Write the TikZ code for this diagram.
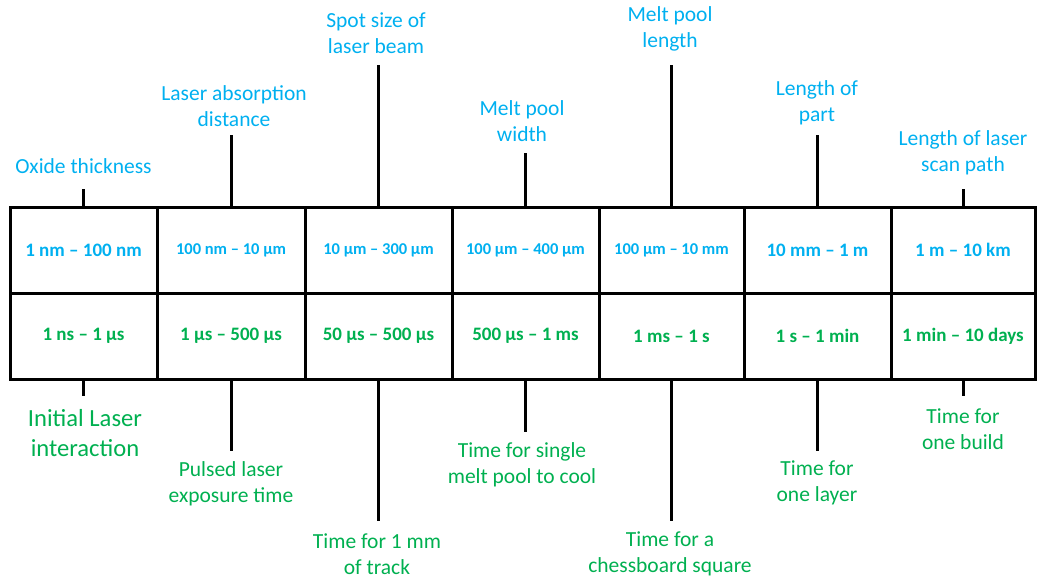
\documentclass[tikz,border=0pt]{standalone}
\usepackage{fontspec}
\setmainfont{Carlito}
\definecolor{lenblue}{HTML}{00B0F0}
\definecolor{timegreen}{HTML}{00B050}
\begin{document}
\begin{tikzpicture}[x=1pt,y=-1pt,
  cell/.style={draw=black, line width=3pt, minimum height=86pt, inner sep=0pt, font=\bfseries\fontsize{19}{23}\selectfont},
  lencell/.style={cell, text=lenblue},
  smallcell/.style={lencell, font=\bfseries\fontsize{16.5}{20}\selectfont},
  timecell/.style={cell, text=timegreen},
  tick/.style={line width=3pt},
  lenlabel/.style={text=lenblue, align=center, inner sep=0pt, font=\fontsize{21.5}{26}\selectfont},
  timelabel/.style={text=timegreen, align=center, inner sep=0pt, font=\fontsize{21.5}{26}\selectfont},
  biglabel/.style={text=timegreen, align=center, inner sep=0pt, font=\fontsize{24.6}{30}\selectfont}]
\useasboundingbox (0,0) rectangle (1037,581);

% length scales (top row)
\node[lencell,   minimum width=147pt] (l1) at (83.5,250) {1 nm – 100 nm};
\node[smallcell, minimum width=148pt] (l2) at (231,250) {100 nm – 10 µm};
\node[smallcell, minimum width=147pt] (l3) at (378.5,250) {10 µm – 300 µm};
\node[smallcell, minimum width=147pt] (l4) at (525.5,250) {100 µm – 400 µm};
\node[smallcell, minimum width=145pt] (l5) at (671.5,250) {100 µm – 10 mm};
\node[lencell,   minimum width=147pt] (l6) at (817.5,250) {10 mm – 1 m};
\node[lencell,   minimum width=144pt] (l7) at (963,250) {1 m – 10 km};

% time scales (bottom row)
\node[timecell, minimum width=147pt] (t1) at (83.5,336) {1 ns – 1 µs};
\node[timecell, minimum width=148pt] (t2) at (231,336) {1 µs – 500 µs};
\node[timecell, minimum width=147pt] (t3) at (378.5,336) {50 µs – 500 µs};
\node[timecell, minimum width=147pt] (t4) at (525.5,336) {500 µs – 1 ms};
\node[timecell, minimum width=145pt] (t5) at (671.5,336) {1 ms – 1 s};
\node[timecell, minimum width=147pt] (t6) at (817.5,336) {1 s – 1 min};
\node[timecell, minimum width=144pt] (t7) at (963,336) {1 min – 10 days};

% tick ends
\coordinate (ua) at (83.5,189);
\coordinate (ub) at (231,135);
\coordinate (uc) at (378.5,65);
\coordinate (ud) at (525.5,153);
\coordinate (ue) at (671.5,65);
\coordinate (uf) at (817.5,135);
\coordinate (ug) at (963,189);
\coordinate (da) at (83.5,396);
\coordinate (db) at (231,451);
\coordinate (dc) at (378.5,521);
\coordinate (dd) at (525.5,432);
\coordinate (de) at (671.5,521);
\coordinate (df) at (817.5,451);
\coordinate (dg) at (963,396);

\foreach \c/\u/\d in {1/ua/da,2/ub/db,3/uc/dc,4/ud/dd,5/ue/de,6/uf/df,7/ug/dg}{
  \draw[tick] (l\c.north) -- (\u);
  \draw[tick] (t\c.south) -- (\d);
}

% length labels
\node[lenlabel] (n1) at (83.5,166) {Oxide thickness};
\node[lenlabel] (n2) at (234,106) {Laser absorption\\distance};
\node[lenlabel] (n3) at (376,33) {Spot size of\\laser beam};
\node[lenlabel] (n4) at (522,121) {Melt pool\\width};
\node[lenlabel] (n5) at (670,28.5) {Melt pool\\length};
\node[lenlabel] (n6) at (817,102.5) {Length of\\part};
\node[lenlabel] (n7) at (963,153) {Length of laser\\scan path};

% time labels
\node[biglabel]  (m1) at (85,433) {Initial Laser\\interaction};
\node[timelabel] (m2) at (231,484) {Pulsed laser\\exposure time};
\node[timelabel] (m3) at (377,554) {Time for 1 mm\\of track};
\node[timelabel] (m4) at (522,465) {Time for single\\melt pool to cool};
\node[timelabel] (m5) at (670,554) {Time for a\\chessboard square};
\node[timelabel] (m6) at (817,483) {Time for\\one layer};
\node[timelabel] (m7) at (963,429) {Time for\\one build};
\end{tikzpicture}
\end{document}
